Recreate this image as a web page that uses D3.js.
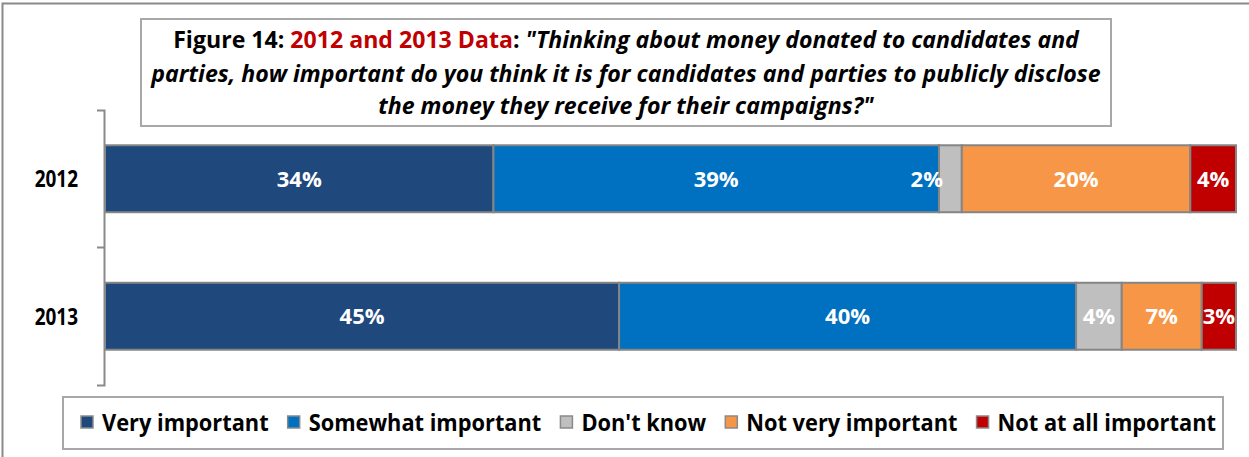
<!DOCTYPE html>
<html>
<head>
<meta charset="utf-8">
<script src="https://cdn.jsdelivr.net/npm/d3@7"></script>
<style>
  html, body { margin: 0; padding: 0; background: #fff; }
  svg { display: block; font-family: "Open Sans", "Noto Sans", sans-serif; }
</style>
</head>
<body>
<div id="chart"></div>
<script>
// Survey years (one stacked bar each)
const years = ["2012", "2013"];
// Response categories, in stacking order
const responses = ["Very important", "Somewhat important", "Don't know", "Not very important", "Not at all important"];
const responseColors = ["#1f497d", "#0070c0", "#bfbfbf", "#f79646", "#c00000"];
// Percent of respondents per response
const values2012 = [34, 39, 2, 20, 4];
const values2013 = [45, 40, 4, 7, 3];

// Title text
const titleLead = "Figure 14: ";
const titleHighlight = "2012 and 2013 Data";
const titleQuestion = [
  "\"Thinking about money donated to candidates and",
  "parties, how important do you think it is for candidates and parties to publicly disclose",
  "the money they receive for their campaigns?\""
];

const W = 1249, H = 457;
const svg = d3.select("#chart").append("svg").attr("width", W).attr("height", H);

// squeeze a text element horizontally about a fixed x
function squeeze(sel, scale, cx) {
  sel.attr("transform", `translate(${cx},0) scale(${scale},1) translate(${-cx},0)`);
}

// outer frame (top and left edges)
svg.append("path")
  .attr("d", `M2.5,${H} V3.5 H${W}`)
  .attr("fill", "none").attr("stroke", "#8a8a8a").attr("stroke-width", 2);

// ---- title box ----
const tb = { x: 141, y: 19, w: 970, h: 107 };
svg.append("rect")
  .attr("x", tb.x).attr("y", tb.y).attr("width", tb.w).attr("height", tb.h)
  .attr("fill", "#fff").attr("stroke", "#a8a8a8").attr("stroke-width", 2);

const tcx = tb.x + tb.w / 2;
const titleBaselines = [48, 82, 114];
const titleTexts = titleQuestion.map((q, i) => {
  const t = svg.append("text")
    .attr("x", tcx).attr("y", titleBaselines[i])
    .attr("text-anchor", "middle")
    .attr("font-size", 23).attr("font-weight", "bold").attr("fill", "#000");
  if (i === 0) {
    t.append("tspan").text(titleLead);
    t.append("tspan").attr("fill", "#c00000").text(titleHighlight);
    t.append("tspan").text(": ");
  }
  t.append("tspan").attr("font-style", "italic").text(q);
  return t;
});
// condense the title so its widest line fills the box
const widest = d3.max(titleTexts, t => t.node().getComputedTextLength());
const titleScale = (tb.w - 20) / widest;
titleTexts.forEach(t => squeeze(t, titleScale, tcx));

// ---- bars ----
const rows = years.map((yr, i) => {
  const vals = [values2012, values2013][i];
  const o = { year: yr };
  responses.forEach((r, j) => o[r] = vals[j]);
  return o;
});
const series = d3.stack().keys(responses)(rows);
const maxTotal = d3.max(rows, r => d3.sum(responses, k => r[k]));

const x = d3.scaleLinear().domain([0, maxTotal]).range([105, 1236]);
const y = d3.scaleBand().domain(years).range([110, 385]).paddingInner(0.513).paddingOuter(0.2565);

const g = svg.append("g");
series.forEach((s, si) => {
  g.selectAll(null).data(s).enter().append("rect")
    .attr("x", d => x(d[0]))
    .attr("y", d => y(d.data.year))
    .attr("width", d => x(d[1]) - x(d[0]))
    .attr("height", y.bandwidth())
    .attr("fill", responseColors[si])
    .attr("stroke", "#858585").attr("stroke-width", 2);
});

// value labels
series.forEach((s, si) => {
  s.forEach(d => {
    const v = d.data[s.key];
    const x0 = x(d[0]), x1 = x(d[1]);
    const t = g.append("text")
      .attr("y", y(d.data.year) + y.bandwidth() / 2 + 8)
      .attr("font-size", 22).attr("font-weight", "bold").attr("fill", "#fff")
      .text(v + "%");
    const tw = t.node().getComputedTextLength();
    if (tw > x1 - x0) {
      // too narrow: set the label just left of the segment
      t.attr("x", x0 + 4).attr("text-anchor", "end");
    } else {
      t.attr("x", (x0 + x1) / 2).attr("text-anchor", "middle");
    }
  });
});

// ---- category axis ----
const axisX = 104;
const axis = svg.append("g")
  .attr("transform", `translate(${axisX},0)`)
  .call(d3.axisLeft(y).tickSize(0).tickSizeOuter(7).tickPadding(26));
axis.select(".domain").attr("stroke", "#8a8a8a").attr("stroke-width", 2);
axis.selectAll(".tick text")
  .attr("font-size", 24).attr("font-weight", "bold").attr("fill", "#000")
  .attr("font-family", "\"Open Sans\", sans-serif")
  .attr("dy", "0.36em")
  .each(function () { squeeze(d3.select(this), 0.79, -26); });
// tick between the two categories
const between = y(years[1]) - y.step() * y.paddingInner() / 2;
axis.append("line")
  .attr("x1", -7).attr("x2", 0).attr("y1", between).attr("y2", between)
  .attr("stroke", "#8a8a8a").attr("stroke-width", 2);

// ---- legend ----
const lb = { x: 63, y: 397, w: 1160, h: 52 };
svg.append("rect")
  .attr("x", lb.x).attr("y", lb.y).attr("width", lb.w).attr("height", lb.h)
  .attr("fill", "#fff").attr("stroke", "#a8a8a8").attr("stroke-width", 2);

const sw = 12, swGap = 9, itemGap = 19;
const legendStart = 81, legendEnd = 1216;
const lg = svg.append("g");
const items = responses.map((r, i) => {
  const t = lg.append("text")
    .attr("y", 431).attr("font-size", 23.5).attr("font-weight", "bold").attr("fill", "#000")
    .text(r);
  return { t, w: t.node().getComputedTextLength(), color: responseColors[i] };
});
const textSpace = (legendEnd - legendStart) - items.length * (sw + swGap) - (items.length - 1) * itemGap;
const legendScale = textSpace / d3.sum(items, d => d.w);
let cx = legendStart;
items.forEach(it => {
  lg.append("rect")
    .attr("x", cx).attr("y", 416).attr("width", sw).attr("height", sw)
    .attr("fill", it.color).attr("stroke", "#8a8a8a").attr("stroke-width", 1.5);
  const tx = cx + sw + swGap;
  it.t.attr("x", tx);
  squeeze(it.t, legendScale, tx);
  cx = tx + it.w * legendScale + itemGap;
});
</script>
</body>
</html>
